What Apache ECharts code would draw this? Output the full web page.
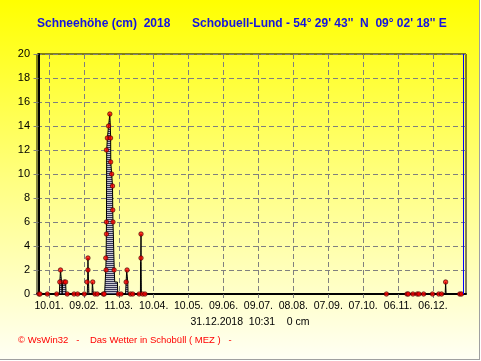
<!DOCTYPE html>
<html>
<head>
<meta charset="utf-8">
<script src="https://cdn.jsdelivr.net/npm/echarts@6/dist/echarts.min.js"></script>
<style>
html,body{margin:0;padding:0;background:#fff;}
#chart{width:479px;height:359px;border-right:1px solid #a0a0a0;border-bottom:1px solid #a0a0a0;
background:linear-gradient(to bottom,#ffff00 0%,#ffff80 50%,#fffff4 100%);}
</style>
</head>
<body>
<div id="chart"></div>
<script>
// Tick positions (day of year, 0 = 01.01.) and their labels
const tickDays = [9, 39, 69, 99, 129, 159, 189, 219, 249, 279, 309, 339];
const tickLabels = ['10.01.', '09.02.', '11.03.', '10.04.', '10.05.', '09.06.', '09.07.', '08.08.', '07.09.', '07.10.', '06.11.', '06.12.'];

// Snow depth curve (day of year, cm)
const curveDays = [0, 17.9, 18.3, 18.9, 19.3, 19.8, 20.3, 20.8, 22.1, 23.3, 23.7,
  41.9, 42.2, 42.5, 42.7, 43.0, 43.3, 46.0, 46.3, 46.8, 47.1,
  56.8, 57.3, 57.8, 58.1, 58.3, 58.4, 58.6, 59.2, 60.2, 61.3, 61.7, 62.0, 62.1, 62.9, 63.6, 63.8, 64.0, 64.3, 64.8, 65.1, 65.5, 67.8, 68.1,
  74.8, 75.3, 75.8, 76.4, 76.7, 77.0,
  87.6, 87.7, 87.9, 88.1, 88.2, 88.4,
  349.5, 349.9, 350.3, 365];
const curveVals = [0, 0, 1, 2, 2, 1, 0, 1, 1, 1, 0,
  0, 1, 3, 2, 1, 0, 0, 1, 1, 0,
  0, 1, 2, 3, 5, 6, 12, 13, 14, 15, 14, 13, 11, 10, 9, 7, 6, 5, 3, 2, 1, 1, 0,
  0, 1, 2, 2, 1, 0,
  0, 2.7, 3, 5, 2.7, 0,
  0, 1, 0, 0];

// Individual readings (red dots)
const readDays = [0.4, 1.3, 7.6, 15.6, 24.7, 30.5, 33.6, 39.4, 18.3, 18.9, 22.1, 23.3,
  41.8, 42.5, 42.5, 46.6, 48.5, 50.5, 55.7, 56.5,
  61.3, 60.2, 59.2, 61.9, 58.4, 62.0, 62.9, 63.6, 63.8, 58.4, 64.0, 58.4, 57.8, 58.1, 65.0,
  68.6, 71, 75.3, 76.1, 79, 81, 86.5, 88.1, 88.1, 89.5, 91.5,
  299, 316.7, 317.8, 321.8, 325.5, 327, 331, 338.6, 344, 346.4, 349.9, 362, 363.5];
const readVals = [0, 0, 0, 0, 0, 0, 0, 0, 1, 2, 1, 1,
  1, 2, 3, 1, 0, 0, 0, 0,
  15, 14, 13, 13, 12, 11, 10, 9, 7, 6, 6, 5, 3, 2, 2,
  0, 0, 1, 2, 0, 0, 0, 5, 3, 0, 0,
  0, 0, 0, 0, 0, 0, 0, 0, 0, 0, 1, 0, 0];

const yTicks = [0, 2, 4, 6, 8, 10, 12, 14, 16, 18, 20];

// striped fill pattern
const pc = document.createElement('canvas');
pc.width = 2; pc.height = 2;
const pctx = pc.getContext('2d');
pctx.fillStyle = '#c8c8d0'; pctx.fillRect(0, 0, 2, 1);
pctx.fillStyle = '#38385a'; pctx.fillRect(0, 1, 2, 1);

const chart = echarts.init(document.getElementById('chart'), null, {renderer: 'canvas'});
const FONT = '"Liberation Sans", Arial, sans-serif';

chart.setOption({
  animation: false,
  backgroundColor: 'transparent',
  grid: {left: 37, right: 13, top: 54, bottom: 65, show: true, borderColor: '#000', borderWidth: 1, backgroundColor: 'transparent'},
  xAxis: {
    type: 'value', min: -1.3, max: 367.4,
    axisLine: {show: true, onZero: false, lineStyle: {color: '#000', width: 2}},
    axisTick: {show: true, length: 4, customValues: tickDays, lineStyle: {color: '#808080'}},
    axisLabel: {show: true, customValues: tickDays, margin: 7, color: '#000', fontFamily: FONT, fontSize: 10.5,
      formatter: v => tickLabels[tickDays.indexOf(Math.round(v))] || ''},
    splitLine: {show: true, lineStyle: {color: '#808080', type: [5, 3], width: 1}}
  },
  yAxis: {
    type: 'value', min: yTicks[0], max: yTicks[yTicks.length - 1], interval: 2,
    axisLine: {show: true, lineStyle: {color: '#000', width: 2}},
    axisTick: {show: true, length: 5, lineStyle: {color: '#808080'}},
    axisLabel: {margin: 7, color: '#000', fontFamily: FONT, fontSize: 11},
    splitLine: {show: true, lineStyle: {color: '#808080', type: [5, 3], width: 1}}
  },
  series: [
    {
      type: 'line',
      data: curveDays.map((d, i) => [d, curveVals[i]]),
      showSymbol: false,
      lineStyle: {color: '#000', width: 1},
      areaStyle: {color: {image: pc, repeat: 'repeat'}, opacity: 1},
      z: 3,
      markLine: {
        silent: true, symbol: ['none', 'none'], label: {show: false},
        lineStyle: {color: '#0000ff', type: 'solid', width: 1},
        data: [{xAxis: 365}]
      }
    },
    {
      type: 'scatter',
      data: readDays.map((d, i) => [d, readVals[i]]),
      symbol: 'circle', symbolSize: 4.5,
      itemStyle: {color: '#ff0000', borderColor: '#400000', borderWidth: 0.8},
      z: 4
    }
  ],
  graphic: [
    {type: 'text', x: 37, y: 24, style: {text: 'Schneehöhe (cm)  2018', font: 'bold 12px ' + FONT, fill: '#1414e0', align: 'left', verticalAlign: 'middle'}},
    {type: 'text', x: 192, y: 24, style: {text: "Schobuell-Lund - 54° 29' 43''  N  09° 02' 18'' E", font: 'bold 12px ' + FONT, fill: '#1414e0', align: 'left', verticalAlign: 'middle'}},
    {type: 'text', x: 250, y: 322, style: {text: '31.12.2018  10:31    0 cm', font: '10.5px ' + FONT, fill: '#000', align: 'center', verticalAlign: 'middle'}},
    {type: 'text', x: 18, y: 340, style: {text: '© WsWin32   -    Das Wetter in Schobüll ( MEZ )   -', font: '9.5px ' + FONT, fill: '#ff0000', align: 'left', verticalAlign: 'middle'}}
  ]
});
</script>
</body>
</html>
